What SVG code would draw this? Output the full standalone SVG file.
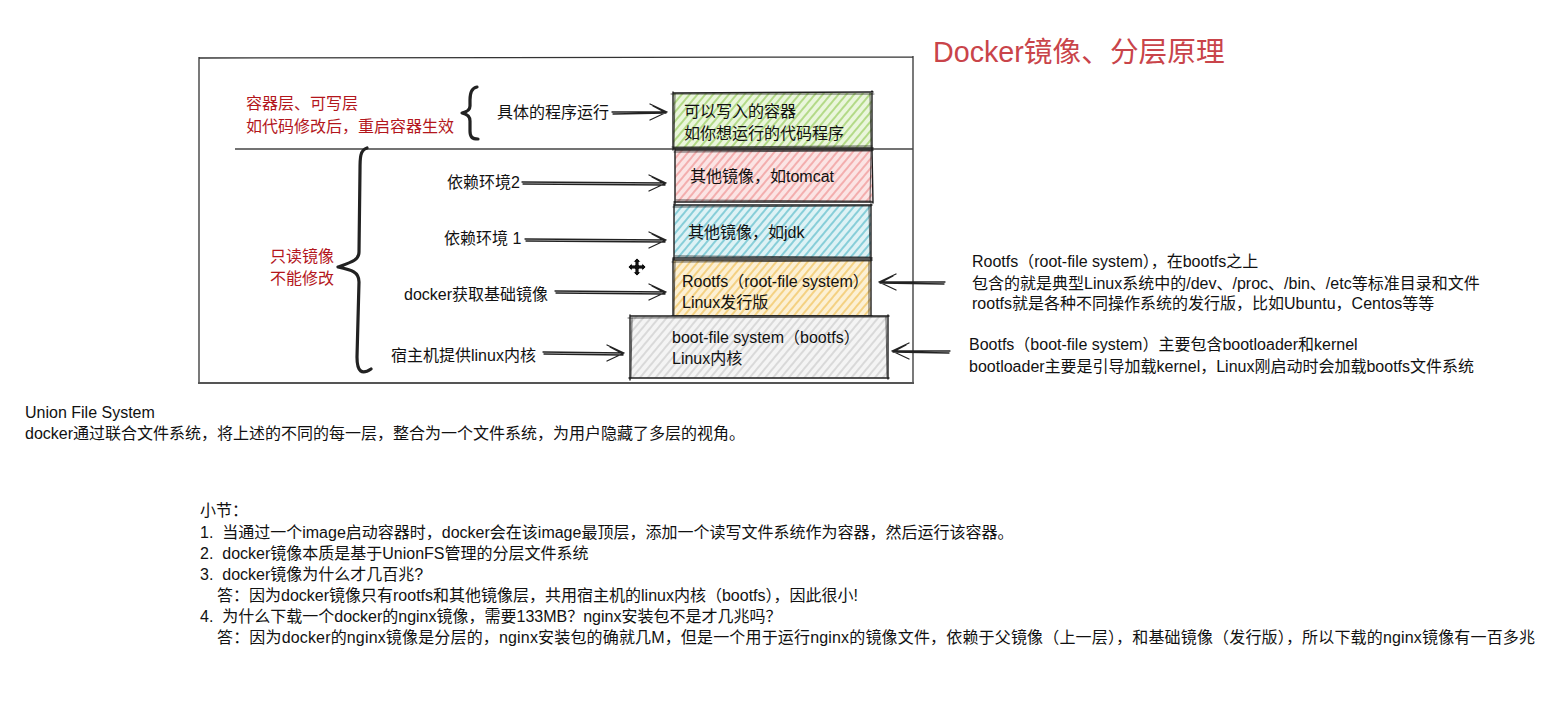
<svg xmlns="http://www.w3.org/2000/svg" width="1551" height="707" viewBox="0 0 1551 707">
<style>
text{font-family:"Liberation Sans","Noto Sans CJK SC",sans-serif;font-size:16px;fill:#111}
.red{fill:#b3161c}
.title{fill:#c9444a;font-size:28.7px}
.edge{fill:none;stroke:#1e1e1e;stroke-width:1.4;stroke-linecap:round;stroke-linejoin:round}
.edge2{fill:none;stroke:#1e1e1e;stroke-width:0.9;stroke-linecap:round;opacity:.8}
.brace{fill:none;stroke:#222;stroke-width:3.2;stroke-linecap:round;stroke-linejoin:round}
.arr{fill:none;stroke:#222;stroke-width:1.3;stroke-linecap:round;stroke-linejoin:round}
.frame{fill:none;stroke:#333;stroke-width:1.3}
</style>
<defs>
<pattern id="hG" width="6" height="6" patternUnits="userSpaceOnUse" patternTransform="rotate(40)"><rect width="6" height="6" fill="#eaf6dc"/><line x1="1" y1="0" x2="1" y2="6" stroke="#8fc84f" stroke-width="1.2"/></pattern>
<pattern id="hR" width="6" height="6" patternUnits="userSpaceOnUse" patternTransform="rotate(40)"><rect width="6" height="6" fill="#fbe4e4"/><line x1="1" y1="0" x2="1" y2="6" stroke="#ee8a8a" stroke-width="1.2"/></pattern>
<pattern id="hC" width="6" height="6" patternUnits="userSpaceOnUse" patternTransform="rotate(40)"><rect width="6" height="6" fill="#def2f5"/><line x1="1" y1="0" x2="1" y2="6" stroke="#4db6c6" stroke-width="1.2"/></pattern>
<pattern id="hO" width="6" height="6" patternUnits="userSpaceOnUse" patternTransform="rotate(40)"><rect width="6" height="6" fill="#fcf0d4"/><line x1="1" y1="0" x2="1" y2="6" stroke="#efbd4c" stroke-width="1.2"/></pattern>
<pattern id="hY" width="6" height="6" patternUnits="userSpaceOnUse" patternTransform="rotate(40)"><rect width="6" height="6" fill="#f4f4f4"/><line x1="1" y1="0" x2="1" y2="6" stroke="#c4c4c4" stroke-width="1.1"/></pattern>
</defs>

<g id="frame">
<path class="frame" d="M199,58 L913,57 M913,56 L913,384 M199,57 L199,384"/>
<path d="M198,383 L914,383" stroke="#555" stroke-width="2.2" fill="none"/>
<path d="M235,149 L913,149" stroke="#444" stroke-width="1.6" fill="none"/>
</g>

<g id="title"><text class="title" x="933" y="62">Docker镜像、分层原理</text></g>

<g id="layer-container">
<rect x="673" y="93" width="199" height="55" fill="url(#hG)"/>
<path class="edge" d="M673,93 L873,92 M872,91 L872,149 M674,148 L873,148 M673,92 L673,150"/>
<path class="edge2" d="M671,94 L874,94 M870,93 L871,148 M672,147 L872,146 M675,94 L674,148"/>
<text x="684" y="117">可以写入的容器</text>
<text x="684" y="139">如你想运行的代码程序</text>
</g>

<g id="layer-tomcat">
<rect x="675" y="150" width="197" height="52" fill="url(#hR)"/>
<path class="edge" d="M675,150 L873,150 M872,149 L873,203 M674,202 L873,202 M675,149 L675,204"/>
<path class="edge2" d="M674,152 L872,151 M871,151 L870,202 M676,200 L871,201"/>
<text x="690" y="182">其他镜像，如tomcat</text>
</g>

<g id="layer-jdk">
<rect x="674" y="205" width="197" height="53" fill="url(#hC)"/>
<path class="edge" d="M674,205 L872,205 M871,204 L871,259 M673,258 L872,258 M674,204 L674,260"/>
<path class="edge2" d="M673,207 L871,206 M869,206 L870,258 M675,256 L870,257"/>
<text x="688" y="238">其他镜像，如jdk</text>
</g>

<g id="layer-rootfs">
<rect x="673" y="260" width="198" height="56" fill="url(#hO)"/>
<path class="edge" d="M673,260 L872,260 M871,259 L871,317 M672,316 L872,316 M673,259 L673,317"/>
<path class="edge2" d="M672,262 L871,261 M869,261 L869,316 M675,262 L674,315"/>
<text x="682" y="287">Rootfs（root-file system）</text>
<text x="682" y="308">Linux发行版</text>
</g>

<g id="layer-bootfs">
<rect x="630" y="316" width="258" height="62" fill="url(#hY)"/>
<path class="edge" d="M630,316 L889,316 M888,315 L888,379 M629,378 L889,378 M630,315 L630,380"/>
<path class="edge2" d="M628,318 L887,317 M886,317 L887,377 M632,318 L631,378"/>
<text x="672" y="343">boot-file system（bootfs）</text>
<text x="672" y="364">Linux内核</text>
</g>

<g id="label-writable">
<text class="red" x="246" y="109">容器层、可写层</text>
<text class="red" x="246" y="132">如代码修改后，重启容器生效</text>
<path class="brace" d="M477,87 C471,88 470,94 470,100 L470,106 C470,110 467,112 462,113 C467,114 470,116 470,121 L470,131 C470,137 472,139 478,139"/>
</g>

<g id="label-readonly">
<text class="red" x="270" y="262">只读镜像</text>
<text class="red" x="270" y="284">不能修改</text>
<path class="brace" d="M367,148 C360,150 360,158 360,170 L359,252 C359,260 352,262 338,267 C352,270 359,272 359,282 L357,357 C357,372 362,375 371,369"/>
</g>

<g id="label-run"><text x="497" y="118">具体的程序运行</text></g>
<g id="label-dep2"><text x="447" y="188">依赖环境2</text></g>
<g id="label-dep1"><text x="444" y="244">依赖环境 1</text></g>
<g id="label-base"><text x="404" y="300">docker获取基础镜像</text></g>
<g id="label-kernel"><text x="391" y="361">宿主机提供linux内核</text></g>

<g id="note-rootfs">
<text x="972" y="267">Rootfs（root-file system），在bootfs之上</text>
<text x="972" y="289">包含的就是典型Linux系统中的/dev、/proc、/bin、/etc等标准目录和文件</text>
<text x="972" y="309">rootfs就是各种不同操作系统的发行版，比如Ubuntu，Centos等等</text>
</g>

<g id="note-bootfs">
<text x="969" y="350">Bootfs（boot-file system）主要包含bootloader和kernel</text>
<text x="969" y="372">bootloader主要是引导加载kernel，Linux刚启动时会加载bootfs文件系统</text>
</g>

<g id="connectors">
<path class="arr" d="M612,112 L667,112 M613,114 L666,113 M667,112 L650,104 M667,112 L650,120 M666,113 L653,106"/>
<path class="arr" d="M522,182 L666,183 M523,184 L665,185 M666,183 L649,175 M666,183 L649,191 M665,184 L652,177"/>
<path class="arr" d="M525,239 L666,240 M526,241 L665,242 M666,240 L649,232 M666,240 L649,248 M665,241 L652,234"/>
<path class="arr" d="M555,291 L666,292 M556,293 L665,294 M666,292 L649,284 M666,292 L649,300 M665,293 L652,286"/>
<path class="arr" d="M543,352 L624,353 M544,354 L623,355 M624,353 L607,345 M624,353 L607,361 M623,354 L610,347"/>
<path class="arr" d="M945,282 L879,282 M944,284 L880,283 M879,282 L896,274 M879,282 L896,290 M880,283 L893,276"/>
<path class="arr" d="M950,351 L892,351 M949,353 L893,352 M892,351 L909,343 M892,351 L909,359 M893,352 L906,345"/>
</g>

<g id="cursor">
<path d="M637,258 L641,262 L639,262 L639,265 L642,265 L642,263 L646,267 L642,271 L642,269 L639,269 L639,272 L641,272 L637,276 L633,272 L635,272 L635,269 L632,269 L632,271 L628,267 L632,263 L632,265 L635,265 L635,262 L633,262 Z" fill="#111" stroke="#fff" stroke-width="0.8"/>
</g>

<g id="summary-ufs">
<text x="25" y="418">Union File System</text>
<text x="25" y="439">docker通过联合文件系统，将上述的不同的每一层，整合为一个文件系统，为用户隐藏了多层的视角。</text>
</g>

<g id="summary">
<text x="200" y="516">小节：</text>
<text x="200" y="538">1.&#160;&#160;当通过一个image启动容器时，docker会在该image最顶层，添加一个读写文件系统作为容器，然后运行该容器。</text>
<text x="200" y="559">2.&#160;&#160;docker镜像本质是基于UnionFS管理的分层文件系统</text>
<text x="200" y="580">3.&#160;&#160;docker镜像为什么才几百兆?</text>
<text x="217" y="601">答：因为docker镜像只有rootfs和其他镜像层，共用宿主机的linux内核（bootfs），因此很小!</text>
<text x="200" y="622">4.&#160;&#160;为什么下载一个docker的nginx镜像，需要133MB？nginx安装包不是才几兆吗？</text>
<text x="217" y="643" textLength="1318" lengthAdjust="spacing">答：因为docker的nginx镜像是分层的，nginx安装包的确就几M，但是一个用于运行nginx的镜像文件，依赖于父镜像（上一层），和基础镜像（发行版），所以下载的nginx镜像有一百多兆</text>
</g>
</svg>
